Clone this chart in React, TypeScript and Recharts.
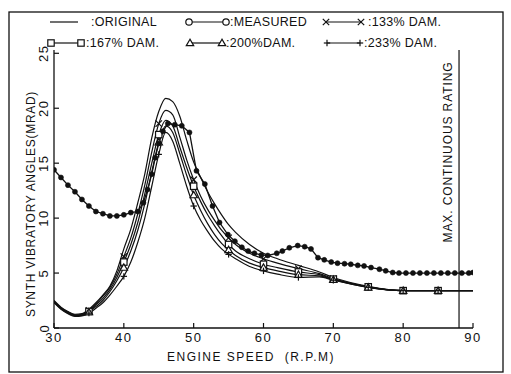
import React from "react";
import { LineChart, Line, XAxis, YAxis, ReferenceLine } from "recharts";

// engine speed (rpm) for the calculated curves
const rpm = [30, 31, 32, 33, 34, 35, 36, 37, 38, 39, 40, 41, 42, 43, 44, 45, 46, 47, 48, 49, 50, 51, 52, 53, 54, 55, 56, 58, 60, 62, 65, 68, 70, 75, 80, 85, 90];
const original = [2.5, 1.9, 1.5, 1.25, 1.3, 1.7, 2.3, 3.0, 3.8, 5.2, 7.2, 9.0, 11.4, 14.0, 17.3, 19.7, 20.9, 20.6, 19.3, 17.1, 15.1, 13.7, 12.4, 11.3, 10.3, 9.4, 8.7, 7.6, 6.8, 6.3, 5.7, 5.1, 4.6, 3.8, 3.4, 3.4, 3.4];
const dam133 = [2.45, 1.85, 1.45, 1.2, 1.25, 1.6, 2.2, 2.9, 3.7, 4.9, 6.5, 8.2, 10.4, 13.0, 16.0, 18.6, 19.8, 19.4, 17.4, 15.3, 13.5, 12.0, 10.8, 9.8, 8.9, 8.2, 7.6, 6.8, 6.3, 5.9, 5.4, 4.95, 4.5, 3.75, 3.4, 3.4, 3.4];
const dam167 = [2.4, 1.8, 1.4, 1.15, 1.2, 1.5, 2.1, 2.7, 3.5, 4.6, 6.0, 7.6, 9.6, 12.2, 15.0, 17.6, 18.9, 18.4, 16.5, 14.6, 12.9, 11.5, 10.3, 9.3, 8.4, 7.6, 7.0, 6.3, 5.8, 5.5, 5.1, 4.85, 4.45, 3.75, 3.4, 3.4, 3.4];
const dam200 = [2.35, 1.75, 1.35, 1.1, 1.15, 1.45, 1.95, 2.5, 3.3, 4.3, 5.5, 7.0, 8.9, 11.3, 14.2, 16.9, 18.4, 17.8, 15.9, 13.9, 12.1, 10.7, 9.5, 8.5, 7.7, 7.1, 6.6, 5.9, 5.5, 5.2, 4.85, 4.75, 4.4, 3.7, 3.4, 3.4, 3.4];
const dam233 = [2.3, 1.7, 1.3, 1.05, 1.1, 1.35, 1.8, 2.3, 3.0, 3.8, 4.7, 6.0, 7.8, 10.0, 12.9, 15.8, 17.8, 17.0, 15.0, 12.9, 11.1, 9.8, 8.8, 7.9, 7.2, 6.7, 6.3, 5.6, 5.2, 4.9, 4.6, 4.65, 4.35, 3.7, 3.4, 3.4, 3.4];

// measured points
const measuredRpm = [30, 31, 32, 33, 34, 35, 36, 37, 38, 39, 40, 41, 42, 42.8, 43.4, 44, 44.5, 45, 45.6, 46.3, 47.3, 48.3, 49.4, 50.4, 51.6, 52.7, 53.7, 54.9, 55.9, 56.9, 57.8, 58.7, 59.7, 60.6, 61.9, 62.7, 63.7, 64.9, 65.9, 66.8, 67.8, 68.7, 69.7, 70.6, 71.6, 72.5, 73.5, 74.4, 75.4, 76.6, 77.5, 78.5, 79.4, 80.4, 81.4, 82.4, 83.4, 84.4, 85.4, 86.4, 87.4, 88.4, 89.4, 90];
const measured = [14.4, 13.7, 13.0, 12.4, 11.7, 11.1, 10.6, 10.4, 10.2, 10.2, 10.3, 10.5, 10.6, 11.4, 12.6, 14.0, 15.5, 16.8, 17.9, 18.6, 18.5, 18.4, 17.8, 14.3, 13.1, 11.1, 9.6, 8.5, 7.9, 7.35, 7.0, 6.8, 6.65, 6.6, 6.8, 7.0, 7.3, 7.5, 7.4, 7.2, 6.4, 6.2, 6.0, 5.9, 5.85, 5.8, 5.7, 5.65, 5.5, 5.35, 5.2, 5.05, 5.0, 5.0, 5.0, 5.0, 5.0, 5.0, 5.0, 5.0, 5.0, 5.0, 5.0, 5.05];

// where the calculated curves carry a symbol
const markerRpm = [35, 40, 45, 50, 55, 60, 65, 70, 75, 80, 85];

const xTicks = [30, 40, 50, 60, 70, 80, 90];
const xInnerTicks = [40, 50, 60, 70, 80];
const yTicks = [0, 5, 10, 15, 20, 25];
const yInnerTicks = [5, 10, 15, 20];
const ratingRpm = 88;

const FONT = "'Liberation Sans', Arial, sans-serif";
const INK = "#111";

type Kind = "none" | "circle" | "cross" | "square" | "triangle" | "plus" | "dot";

function Marker({ kind, cx, cy }: { kind: Kind; cx: number; cy: number }) {
  const s = 3.2;
  const common = { stroke: INK, strokeWidth: 1.2 };
  switch (kind) {
    case "circle":
      return <circle cx={cx} cy={cy} r={s} fill="#fff" {...common} />;
    case "dot":
      return <circle cx={cx} cy={cy} r={2.5} fill={INK} {...common} strokeWidth={0.6} />;
    case "square":
      return <rect x={cx - s} y={cy - s} width={2 * s} height={2 * s} fill="#fff" {...common} />;
    case "triangle":
      return (
        <polygon
          points={`${cx},${cy - s - 0.5} ${cx - s - 0.5},${cy + s - 0.5} ${cx + s + 0.5},${cy + s - 0.5}`}
          fill="#fff"
          {...common}
        />
      );
    case "cross":
      return (
        <g {...common}>
          <line x1={cx - s} y1={cy - s} x2={cx + s} y2={cy + s} />
          <line x1={cx - s} y1={cy + s} x2={cx + s} y2={cy - s} />
        </g>
      );
    case "plus":
      return (
        <g {...common}>
          <line x1={cx - s} y1={cy} x2={cx + s} y2={cy} />
          <line x1={cx} y1={cy - s} x2={cx} y2={cy + s} />
        </g>
      );
    default:
      return null;
  }
}

const toPts = (xs: number[], ys: number[]) => xs.map((x, i) => ({ x, y: ys[i] }));

const series: { name: string; kind: Kind; data: { x: number; y: number }[] }[] = [
  { name: "original", kind: "none", data: toPts(rpm, original) },
  { name: "dam133", kind: "cross", data: toPts(rpm, dam133) },
  { name: "dam167", kind: "square", data: toPts(rpm, dam167) },
  { name: "dam200", kind: "triangle", data: toPts(rpm, dam200) },
  { name: "dam233", kind: "plus", data: toPts(rpm, dam233) },
];

const sparseDot = (kind: Kind) => (p: any) => {
  const key = `${kind}-${p.index}`;
  if (kind === "none" || !markerRpm.includes(p.payload?.x)) return <g key={key} />;
  return (
    <g key={key}>
      <Marker kind={kind} cx={p.cx} cy={p.cy} />
    </g>
  );
};

const measuredDot = (p: any) => (
  <g key={`m-${p.index}`}>
    <Marker kind="dot" cx={p.cx} cy={p.cy} />
  </g>
);

const YTick = ({ x, y, payload }: any) => (
  <text
    x={x}
    y={y}
    transform={`rotate(-90 ${x} ${y})`}
    textAnchor="middle"
    dominantBaseline="central"
    fontFamily={FONT}
    fontSize={13}
    letterSpacing={1.5}
    fill={INK}
  >
    {payload.value}
  </text>
);

const legendRows: { kind: Kind; x1: number; x2: number; tx: number; label: string }[][] = [
  [
    { kind: "none", x1: 50, x2: 78, tx: 91, label: ":ORIGINAL" },
    { kind: "circle", x1: 189, x2: 226, tx: 230, label: ":MEASURED" },
    { kind: "cross", x1: 326, x2: 361, tx: 368, label: ":133% DAM." },
  ],
  [
    { kind: "square", x1: 51, x2: 81, tx: 86, label: ":167% DAM." },
    { kind: "triangle", x1: 190, x2: 222, tx: 226, label: ":200%DAM." },
    { kind: "plus", x1: 327, x2: 360, tx: 364, label: ":233% DAM." },
  ],
];

export default function App() {
  return (
    <div style={{ position: "absolute", left: 0, top: 0, width: 511, height: 374, background: "#fff" }}>
      <LineChart width={511} height={374} margin={{ top: 50, right: 38, bottom: 16, left: 24 }}>
        <XAxis
          xAxisId="b"
          dataKey="x"
          type="number"
          domain={[30, 90]}
          allowDataOverflow
          ticks={xTicks}
          height={30}
          tickSize={-5}
          tickMargin={10}
          axisLine={{ stroke: INK, strokeWidth: 1.3 }}
          tickLine={{ stroke: INK, strokeWidth: 1.2 }}
          tick={{ fontFamily: FONT, fontSize: 13, fill: INK, letterSpacing: 1.5 }}
        />
        <XAxis
          xAxisId="t"
          orientation="top"
          type="number"
          domain={[30, 90]}
          allowDataOverflow
          ticks={xInnerTicks}
          height={0}
          tickSize={-5}
          axisLine={{ stroke: INK, strokeWidth: 1.3 }}
          tickLine={{ stroke: INK, strokeWidth: 1.2 }}
          tick={false}
        />
        <YAxis
          yAxisId="l"
          type="number"
          domain={[0, 25.3]}
          allowDataOverflow
          ticks={yTicks}
          width={30}
          tickSize={-5}
          tickMargin={15}
          axisLine={{ stroke: INK, strokeWidth: 1.3 }}
          tickLine={{ stroke: INK, strokeWidth: 1.2 }}
          tick={<YTick />}
        />
        <YAxis
          yAxisId="r"
          orientation="right"
          type="number"
          domain={[0, 25.3]}
          allowDataOverflow
          ticks={yInnerTicks}
          width={0}
          tickSize={-5}
          axisLine={{ stroke: INK, strokeWidth: 1.3 }}
          tickLine={{ stroke: INK, strokeWidth: 1.2 }}
          tick={false}
        />
        <ReferenceLine
          xAxisId="b"
          yAxisId="l"
          x={ratingRpm}
          stroke={INK}
          strokeWidth={1.2}
          label={(props: any) => {
            const vb = props.viewBox || {};
            const x = (vb.x ?? 0) - 11;
            const y = 152;
            return (
              <text
                x={x}
                y={y}
                transform={`rotate(-90 ${x} ${y})`}
                textAnchor="middle"
                dominantBaseline="central"
                fontFamily={FONT}
                fontSize={12}
                letterSpacing={0.9}
                fill={INK}
              >
                MAX. CONTINUOUS RATING
              </text>
            );
          }}
        />
        {series.map((s) => (
          <Line
            key={s.name}
            xAxisId="b"
            yAxisId="l"
            data={s.data}
            dataKey="y"
            type="monotone"
            stroke={INK}
            strokeWidth={1.2}
            dot={sparseDot(s.kind)}
            activeDot={false}
            isAnimationActive={false}
          />
        ))}
        <Line
          xAxisId="b"
          yAxisId="l"
          data={toPts(measuredRpm, measured)}
          dataKey="y"
          type="linear"
          stroke={INK}
          strokeWidth={1.3}
          dot={measuredDot}
          activeDot={false}
          isAnimationActive={false}
        />
      </LineChart>
      <svg
        width={511}
        height={374}
        style={{ position: "absolute", left: 0, top: 0, pointerEvents: "none" }}
      >
        <rect x={9} y={12} width={494} height={360} fill="none" stroke={INK} strokeWidth={1.3} />
        {legendRows.map((row, r) =>
          row.map((it) => {
            const cy = r === 0 ? 22 : 43;
            return (
              <g key={it.label}>
                <line x1={it.x1} y1={cy} x2={it.x2} y2={cy} stroke={INK} strokeWidth={1.2} />
                <Marker kind={it.kind} cx={it.x1} cy={cy} />
                <Marker kind={it.kind} cx={it.x2} cy={cy} />
                <text
                  x={it.tx}
                  y={cy}
                  dominantBaseline="central"
                  fontFamily={FONT}
                  fontSize={12.5}
                  letterSpacing={0.3}
                  fill={INK}
                >
                  {it.label}
                </text>
              </g>
            );
          })
        )}
        <text
          x={31}
          y={204}
          transform="rotate(-90 31 204)"
          textAnchor="middle"
          dominantBaseline="central"
          fontFamily={FONT}
          fontSize={12}
          letterSpacing={0.7}
          fill={INK}
        >
          SYNTH VIBRATORY ANGLES(MRAD)
        </text>
        <text
          x={251}
          y={357}
          textAnchor="middle"
          dominantBaseline="central"
          fontFamily={FONT}
          fontSize={12}
          letterSpacing={1.5}
          fill={INK}
          style={{ whiteSpace: "pre" }}
        >
          {"ENGINE SPEED  (R.P.M)"}
        </text>
      </svg>
    </div>
  );
}
